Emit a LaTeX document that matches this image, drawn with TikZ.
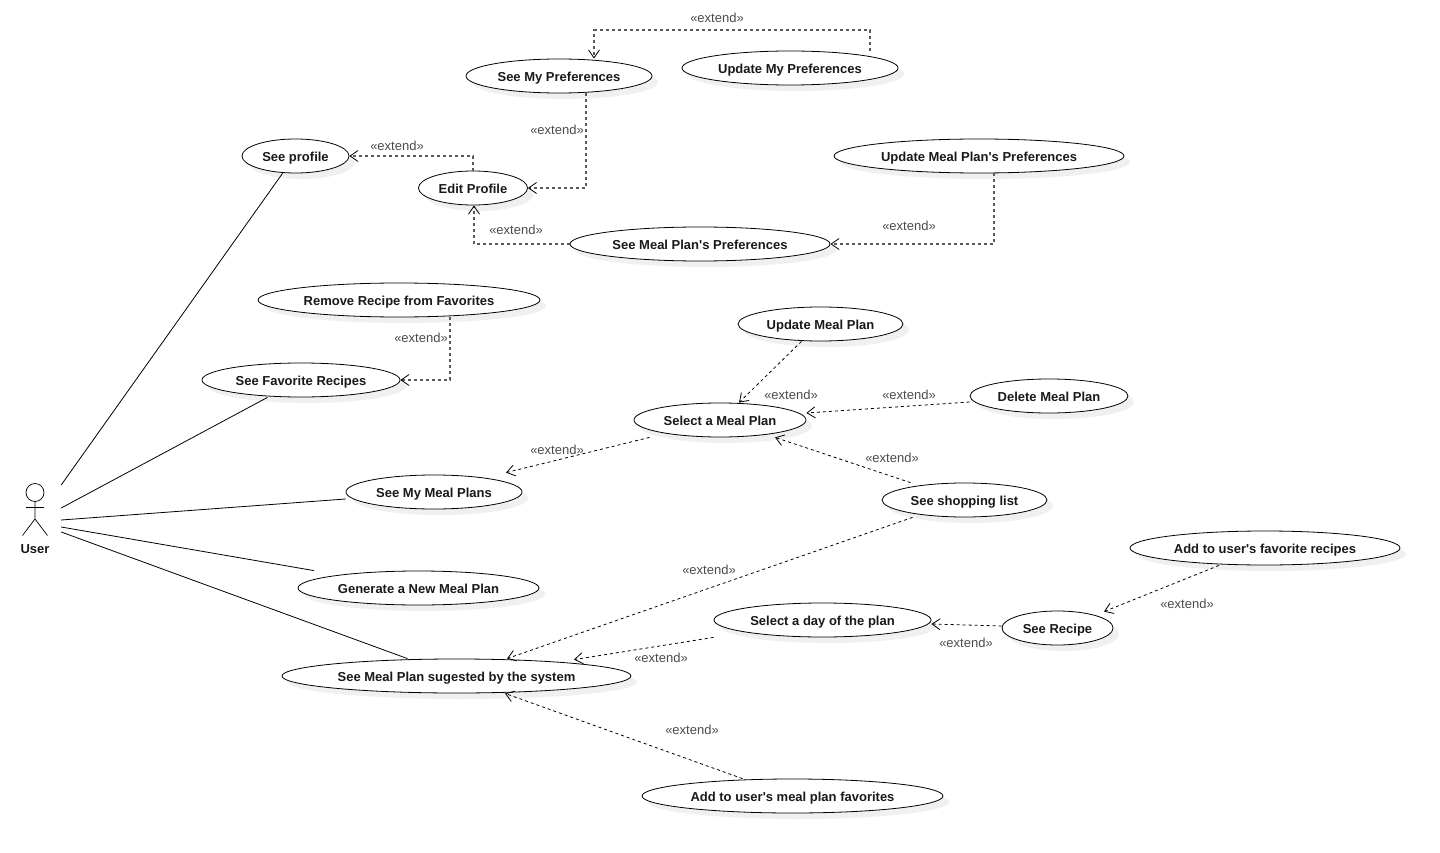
\documentclass[tikz,border=0pt]{standalone}
\usepackage{fontspec}
\setmainfont{Liberation Sans}
\usetikzlibrary{arrows.meta,shadows,shapes.geometric}
\tikzset{
  usecase/.style={draw, ellipse, inner sep=0pt, minimum height=34pt, fill=white, line width=0.8pt,
    font=\fontsize{13}{15}\selectfont\bfseries, text=black!90, text height=10.6pt, text depth=0pt,
    drop shadow={shadow xshift=6pt, shadow yshift=-6pt, fill=black!6, opacity=1}},
  ext/.style={font=\fontsize{13}{15}\selectfont, text=black!70, inner sep=0pt},
  extline/.style={-{Straight Barb[length=8pt,width=11pt,line width=0.8pt,color=black]}, dash pattern=on 3pt off 3pt, line width=0.8pt},
  extbox/.style={extline, line width=1.3pt, draw=black!65},
  assoc/.style={line width=0.8pt}
}
\begin{document}
\begin{tikzpicture}[x=1pt, y=-1pt]
\useasboundingbox[fill=white] (0,0) rectangle (1440,853);
\node[usecase, minimum width=186pt] (seepref) at (559,76) {See My Preferences};
\node[usecase, minimum width=216pt] (updpref) at (790,68) {Update My Preferences};
\node[usecase, minimum width=107pt] (profile) at (295.5,156) {See profile};
\node[usecase, minimum width=109pt] (edit) at (473,188) {Edit Profile};
\node[usecase, minimum width=290pt] (updmealpref) at (979,156) {Update Meal Plan\textquotesingle s Preferences};
\node[usecase, minimum width=260pt] (mealpref) at (700,244) {See Meal Plan\textquotesingle s Preferences};
\node[usecase, minimum width=282pt] (removefav) at (399,300) {Remove Recipe from Favorites};
\node[usecase, minimum width=198pt] (favs) at (301,380) {See Favorite Recipes};
\node[usecase, minimum width=165pt] (updplan) at (820.5,324) {Update Meal Plan};
\node[usecase, minimum width=158pt] (delplan) at (1049,396) {Delete Meal Plan};
\node[usecase, minimum width=172pt] (selplan) at (720,420) {Select a Meal Plan};
\node[usecase, minimum width=176pt] (myplans) at (434,492) {See My Meal Plans};
\node[usecase, minimum width=165pt] (shopping) at (964.5,500) {See shopping list};
\node[usecase, minimum width=270pt] (addrecipe) at (1265,548) {Add to user\textquotesingle s favorite recipes};
\node[usecase, minimum width=241pt] (generate) at (418.5,588) {Generate a New Meal Plan};
\node[usecase, minimum width=217pt] (selday) at (822.5,620) {Select a day of the plan};
\node[usecase, minimum width=111pt] (recipe) at (1057.5,628) {See Recipe};
\node[usecase, minimum width=349pt] (suggested) at (456.5,676) {See Meal Plan sugested by the system};
\node[usecase, minimum width=301pt] (addplan) at (792.5,796) {Add to user\textquotesingle s meal plan favorites};
% actor
\node[minimum width=52pt, minimum height=52pt, inner sep=0pt] (actor) at (35,510) {};
\node[inner sep=0pt, font=\fontsize{13}{15}\selectfont\bfseries, text=black!90] (user) at (35,549.5) {User};
\draw[line width=0.7pt] (35,492.5) circle (9);
\draw[line width=0.7pt] (35,501.5) -- (35,519) (26,507.5) -- (44,507.5) (22.5,535.5) -- (35,519) -- (47.5,535.5);
\draw[assoc] ([yshift=25pt]actor.east) -- ([xshift=-13pt]profile.south);
\draw[assoc] ([yshift=2pt]actor.east) -- ([xshift=-33.5pt]favs.south);
\draw[assoc] ([yshift=-10pt]actor.east) -- ([yshift=-7pt]myplans.west);
\draw[assoc] ([yshift=-17pt]actor.east) -- ([xshift=-104.5pt]generate.north);
\draw[assoc] ([yshift=-22pt]actor.east) -- ([xshift=-49pt]suggested.north);
% extend
\draw[extbox] ([xshift=80pt]updpref.north) -- ++(0,-20.5) -| ([xshift=35pt]seepref.north);
\draw[extbox] ([xshift=27pt]seepref.south) |- (edit.east);
\draw[extbox] (edit.north) |- (profile.east);
\draw[extbox] (mealpref.west) -| ([xshift=1pt]edit.south);
\draw[extbox] ([xshift=15pt]updmealpref.south) |- (mealpref.east);
\draw[extbox] ([xshift=51pt]removefav.south) |- (favs.east);
\draw[extline] ([xshift=-19pt]updplan.south) -- ([xshift=19pt]selplan.north);
\draw[extline] ([yshift=-6pt]delplan.west) -- ([yshift=7pt]selplan.east);
\draw[extline] ([xshift=-70.5pt]selplan.south) -- ([xshift=72pt,yshift=2pt]myplans.north);
\draw[extline] ([xshift=-54pt]shopping.north) -- ([xshift=55pt]selplan.south);
\draw[extline] ([xshift=-52pt]shopping.south) -- ([xshift=50.5pt]suggested.north);
\draw[extline] ([xshift=-109pt]selday.south) -- ([xshift=117.5pt,yshift=-1pt]suggested.north);
\draw[extline] ([yshift=2pt]recipe.west) -- ([yshift=-4pt]selday.east);
\draw[extline] ([xshift=-46pt]addrecipe.south) -- ([xshift=46.5pt,yshift=-1pt]recipe.north);
\draw[extline] ([xshift=-50pt]addplan.north) -- ([xshift=48.5pt]suggested.south);
% labels
\node[ext] (ext1) at (717,18) {«extend»};
\node[ext] (ext2) at (557,130) {«extend»};
\node[ext] (ext3) at (397,146) {«extend»};
\node[ext] (ext4) at (516,230) {«extend»};
\node[ext] (ext5) at (909,226) {«extend»};
\node[ext] (ext6) at (421,338) {«extend»};
\node[ext] (ext7) at (791,395) {«extend»};
\node[ext] (ext8) at (909,395) {«extend»};
\node[ext] (ext9) at (557,450) {«extend»};
\node[ext] (ext10) at (892,458) {«extend»};
\node[ext] (ext11) at (709,570) {«extend»};
\node[ext] (ext12) at (661,658) {«extend»};
\node[ext] (ext13) at (692,730) {«extend»};
\node[ext] (ext14) at (966,643) {«extend»};
\node[ext] (ext15) at (1187,604) {«extend»};
\end{tikzpicture}
\end{document}
